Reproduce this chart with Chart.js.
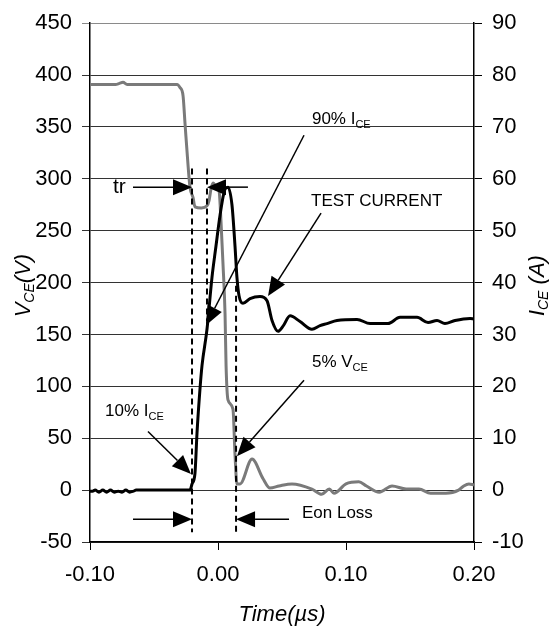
<!DOCTYPE html>
<html>
<head>
<meta charset="utf-8">
<script src="https://cdn.jsdelivr.net/npm/chart.js@4"></script>
<style>html,body{margin:0;padding:0;background:#fff}</style>
</head>
<body>
<canvas id="myChart" width="558" height="633"></canvas>
<script>
// VCE waveform (grey, left axis, volts)
const vceTime = [-0.100,-0.090,-0.080,-0.077,-0.0742,-0.071,-0.060,-0.050,-0.040,-0.032,-0.0297,-0.0273,-0.0258,-0.0234,-0.0219,-0.0195,-0.018,-0.013,-0.0086,-0.007,-0.0055,-0.0039,-0.0016,0.0008,0.0023,0.0039,0.0055,0.0063,0.0078,0.0117,0.0133,0.0148,0.0172,0.0266,0.0352,0.0406,0.0477,0.0578,0.0734,0.081,0.087,0.0906,0.100,0.110,0.116,0.126,0.136,0.147,0.157,0.166,0.178,0.188,0.192,0.196,0.200];
const vceVolts = [391,391,391,392,393,391,391,391,391,391,388,380,354,313,292,282,273,272,274,279,290,296,293,289,260,218,170,120,87,78,34,6,6,30,11,2,4,6,1,-4,1,-3,6,8,4,-2,4,1,1,-3,-3,0,4,6,5];

// ICE waveform (black, right axis, amps)
const iceTime = [-0.100,-0.098,-0.096,-0.093,-0.090,-0.087,-0.084,-0.081,-0.078,-0.075,-0.072,-0.069,-0.066,-0.064,-0.050,-0.040,-0.030,-0.0219,-0.0203,-0.018,-0.0164,-0.0141,-0.0125,-0.0086,-0.0047,-0.0016,0.0016,0.0055,0.0078,0.0109,0.0133,0.0148,0.0164,0.0195,0.025,0.0328,0.0383,0.0422,0.0469,0.0508,0.0563,0.0641,0.0734,0.0797,0.0852,0.093,0.1086,0.1188,0.1328,0.1422,0.1555,0.1641,0.1711,0.1773,0.1852,0.1969,0.200];
const iceAmps = [-0.2,-0.2,0,-0.4,0,-0.4,0,-0.4,-0.2,-0.4,0,-0.4,-0.2,0,0,0,0,0,1.2,3.2,11,19.4,24,31,41,47,53,58,58.4,55,47,41,37.5,36,36.9,37.3,36.5,32.7,30.6,31.6,33.6,32.5,31,31.7,32.1,32.7,32.9,32.1,32.1,33.3,33.3,32.3,32.7,32.1,32.7,33.1,33];

// annotation markers, in data units (x: µs, y: left axis volts)
const dashedMarkers = [
    {x: -0.0203, from: 310, to: -40.5},
    {x: -0.0086, from: 310, to: 163},
    {x: 0.0141, from: 197, to: -40.5}
];
const arrowMarkers = [
    {from: [-0.0664, 292], to: [-0.0203, 292]},
    {from: [0.0234, 292], to: [-0.0086, 292]},
    {from: [0.0672, 342], to: [-0.0094, 159]},
    {from: [0.0805, 267], to: [0.0391, 187]},
    {from: [-0.0547, 56.5], to: [-0.0211, 15.6]},
    {from: [0.0672, 106], to: [0.0148, 32.7]},
    {from: [-0.0664, -28], to: [-0.0203, -28]},
    {from: [0.0555, -28], to: [0.0141, -28]}
];
const textMarkers = [
    {x: -0.082, y: 292, size: 21, parts: [['tr']]},
    {x: 0.0734, y: 357, size: 17, parts: [['90% I'], ['CE', 1]]},
    {x: 0.0727, y: 278, size: 17, parts: [['TEST CURRENT']]},
    {x: -0.0883, y: 75.5, size: 17, parts: [['10% I'], ['CE', 1]]},
    {x: 0.0734, y: 123, size: 17, parts: [['5% V'], ['CE', 1]]},
    {x: 0.0656, y: -22, size: 17, parts: [['Eon Loss']]}
];

const FONT = '"Liberation Sans", Arial, sans-serif';

function drawParts(ctx, x, y, parts, size, italic, center) {
    const st = italic ? 'italic ' : '';
    const subSize = Math.round(size * 0.64);
    let total = 0;
    for (const p of parts) {
        ctx.font = st + (p[1] ? subSize : size) + 'px ' + FONT;
        total += ctx.measureText(p[0]).width;
    }
    let cx = center ? x - total / 2 : x;
    ctx.textBaseline = 'middle';
    ctx.textAlign = 'left';
    for (const p of parts) {
        ctx.font = st + (p[1] ? subSize : size) + 'px ' + FONT;
        ctx.fillText(p[0], cx, y + (p[1] ? size * 0.3 : 0));
        cx += ctx.measureText(p[0]).width;
    }
}

function drawArrow(ctx, x1, y1, x2, y2) {
    const ang = Math.atan2(y2 - y1, x2 - x1);
    const L = 19, W = 8;
    const bx = x2 - L * Math.cos(ang), by = y2 - L * Math.sin(ang);
    ctx.lineWidth = 1.5;
    ctx.beginPath();
    ctx.moveTo(x1, y1);
    ctx.lineTo(bx, by);
    ctx.stroke();
    ctx.beginPath();
    ctx.moveTo(x2, y2);
    ctx.lineTo(bx + W * Math.sin(ang), by - W * Math.cos(ang));
    ctx.lineTo(bx - W * Math.sin(ang), by + W * Math.cos(ang));
    ctx.closePath();
    ctx.fill();
}

const annotate = {
    id: 'annotate',
    afterDatasetsDraw(chart) {
        const ctx = chart.ctx;
        const xs = chart.scales.x, ys = chart.scales.y;
        const px = v => xs.getPixelForValue(v), py = v => ys.getPixelForValue(v);
        ctx.save();
        ctx.strokeStyle = '#000';
        ctx.fillStyle = '#000';
        ctx.lineWidth = 2;
        ctx.setLineDash([6, 4]);
        for (const d of dashedMarkers) {
            ctx.beginPath();
            ctx.moveTo(px(d.x), py(d.from));
            ctx.lineTo(px(d.x), py(d.to));
            ctx.stroke();
        }
        ctx.setLineDash([]);
        for (const a of arrowMarkers) {
            drawArrow(ctx, px(a.from[0]), py(a.from[1]), px(a.to[0]), py(a.to[1]));
        }
        for (const t of textMarkers) {
            drawParts(ctx, px(t.x), py(t.y), t.parts, t.size, false, false);
        }
        ctx.restore();
    },
    afterDraw(chart) {
        const ctx = chart.ctx, area = chart.chartArea;
        const midY = (area.top + area.bottom) / 2 + 3;
        ctx.save();
        ctx.fillStyle = '#000';
        drawParts(ctx, (area.left + area.right) / 2, chart.height - 18, [['Time(µs)']], 22, true, true);
        ctx.save();
        ctx.translate(24, midY);
        ctx.rotate(-Math.PI / 2);
        drawParts(ctx, 0, 0, [['V'], ['CE', 1], ['(V)']], 22, true, true);
        ctx.restore();
        ctx.save();
        ctx.translate(538, midY);
        ctx.rotate(-Math.PI / 2);
        drawParts(ctx, 0, 0, [['I'], ['CE', 1], [' (A)']], 22, true, true);
        ctx.restore();
        ctx.restore();
    }
};

window.onload = () => {
    const ctx = document.getElementById('myChart').getContext('2d');
    const tickFont = {family: FONT, size: 22};

    new Chart(ctx, {
        type: 'line',
        data: {
            datasets: [
                {
                    data: iceTime.map((t, i) => ({x: t, y: iceAmps[i]})),
                    yAxisID: 'y2',
                    borderColor: '#000',
                    borderWidth: 3,
                    pointRadius: 0,
                    cubicInterpolationMode: 'monotone'
                },
                {
                    data: vceTime.map((t, i) => ({x: t, y: vceVolts[i]})),
                    yAxisID: 'y',
                    borderColor: '#7a7a7a',
                    borderWidth: 3,
                    pointRadius: 0,
                    cubicInterpolationMode: 'monotone'
                }
            ]
        },
        plugins: [annotate],
        options: {
            responsive: false,
            animation: false,
            layout: {padding: {top: 16, left: 0, right: 0, bottom: 0}},
            plugins: {
                legend: {display: false},
                tooltip: {enabled: false}
            },
            scales: {
                x: {
                    type: 'linear',
                    min: -0.1,
                    max: 0.2,
                    afterFit: s => { s.height = 91; },
                    grid: {drawOnChartArea: false, color: '#000', tickLength: 8},
                    border: {color: '#000', width: 1.5},
                    ticks: {
                        stepSize: 0.1,
                        color: '#000',
                        font: tickFont,
                        padding: 12,
                        maxRotation: 0,
                        callback: v => (Math.abs(v) < 1e-9 ? 0 : v).toFixed(2)
                    }
                },
                y: {
                    position: 'left',
                    min: -50,
                    max: 450,
                    afterFit: s => { s.width = 90; },
                    grid: {
                        color: c => c.tick && c.tick.value === 450 ? '#8a8a8a' : '#333',
                        lineWidth: 1,
                        tickLength: 8
                    },
                    border: {color: '#000', width: 1.5},
                    ticks: {stepSize: 50, color: '#000', font: tickFont, padding: 10}
                },
                y2: {
                    position: 'right',
                    min: -10,
                    max: 90,
                    afterFit: s => { s.width = 84; },
                    grid: {drawOnChartArea: false, color: '#000', tickLength: 8},
                    border: {color: '#000', width: 1.5},
                    ticks: {stepSize: 10, color: '#000', font: tickFont, padding: 10}
                }
            }
        }
    });
};
</script>
</body>
</html>
